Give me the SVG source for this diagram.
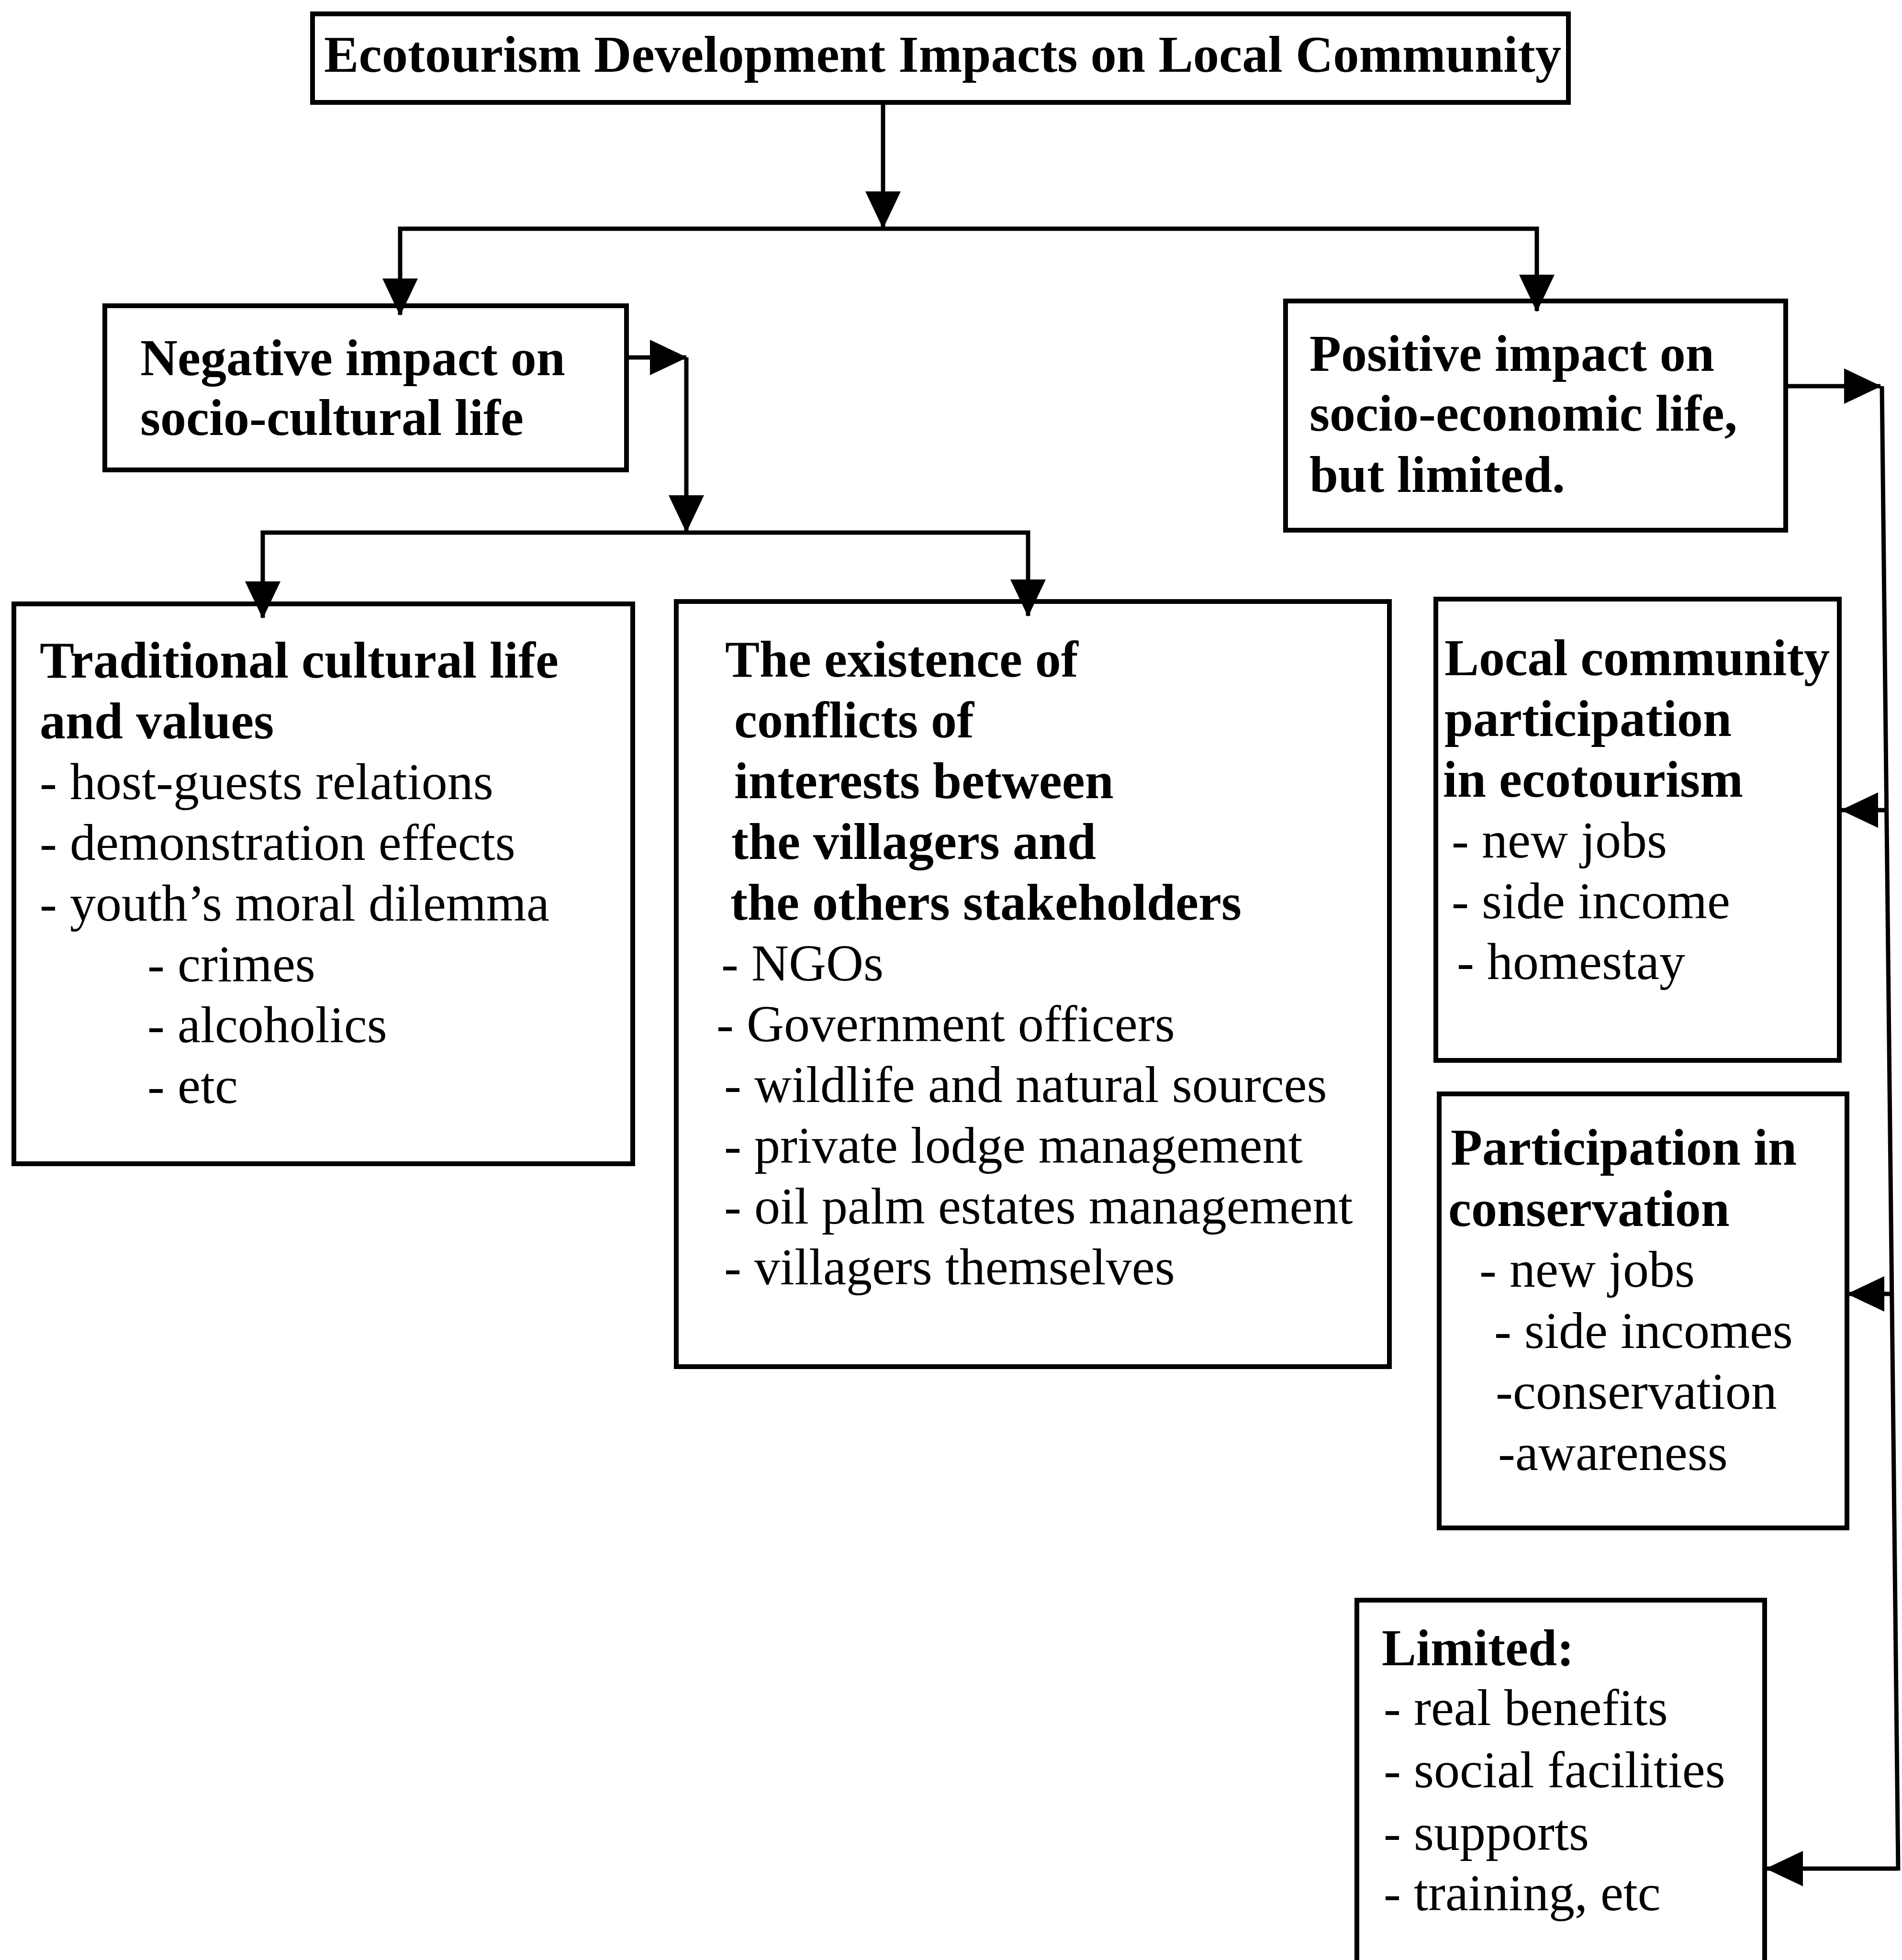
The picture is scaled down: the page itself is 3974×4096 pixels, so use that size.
<svg xmlns="http://www.w3.org/2000/svg" width="3974" height="4096" viewBox="0 0 3974 4096">
<defs>
<style>
.box{fill:none;stroke:#000;stroke-width:10}
.con{fill:none;stroke:#000;stroke-width:9}
text{font-family:"Liberation Serif","Times New Roman",serif;font-size:108px;fill:#000}
.b{font-weight:bold}
</style>
<marker id="ah" markerUnits="userSpaceOnUse" markerWidth="82" markerHeight="82" refX="76" refY="37" orient="auto"><path d="M0,0 L78,37 L0,74 Z" fill="#000"/></marker>
</defs>
<rect width="3974" height="4096" fill="#fff"/>
<g id="connectors">
<path class="con" d="M1845,214 V476" marker-end="url(#ah)"/>
<path class="con" d="M1845,478 H836 V658" marker-end="url(#ah)"/>
<path class="con" d="M1845,478 H3211 V650" marker-end="url(#ah)"/>
<path class="con" d="M1309,747 H1434" marker-end="url(#ah)"/>
<path class="con" d="M1434,747 V1111" marker-end="url(#ah)"/>
<path class="con" d="M1434,1113 H549 V1291" marker-end="url(#ah)"/>
<path class="con" d="M1434,1113 H2148 V1287" marker-end="url(#ah)"/>
<path class="con" d="M3731,807 H3929" marker-end="url(#ah)"/>
<path class="con" d="M3932,807 L3966,3909"/>
<path class="con" d="M3942,1693 H3848" marker-end="url(#ah)"/>
<path class="con" d="M3953,2704 H3861" marker-end="url(#ah)"/>
<path class="con" d="M3966,3905 H3691" marker-end="url(#ah)"/>
</g>
<g id="title">
<rect class="box" x="653" y="29" width="2624" height="185"/>
<text class="b" x="677" y="150" textLength="2585" lengthAdjust="spacingAndGlyphs">Ecotourism Development Impacts on Local Community</text>
</g>
<g id="negative">
<rect class="box" x="219" y="639" width="1090" height="343"/>
<text class="b" x="293" y="784">Negative impact on</text>
<text class="b" x="293" y="909">socio-cultural life</text>
</g>
<g id="positive">
<rect class="box" x="2686" y="629" width="1045" height="479"/>
<text class="b" x="2736" y="775">Positive impact on</text>
<text class="b" x="2736" y="900">socio-economic life,</text>
<text class="b" x="2736" y="1028">but limited.</text>
</g>
<g id="traditional">
<rect class="box" x="29" y="1262" width="1293" height="1170"/>
<text class="b" x="83" y="1416">Traditional cultural life</text>
<text class="b" x="83" y="1543">and values</text>
<text x="83" y="1670">- host-guests relations</text>
<text x="83" y="1797">- demonstration effects</text>
<text x="83" y="1924">- youth’s moral dilemma</text>
<text x="308" y="2051">- crimes</text>
<text x="308" y="2178">- alcoholics</text>
<text x="308" y="2305">- etc</text>
</g>
<g id="conflicts">
<rect class="box" x="1413" y="1257" width="1490" height="1599"/>
<text class="b" x="1515" y="1414">The existence of</text>
<text class="b" x="1534" y="1541">conflicts of</text>
<text class="b" x="1534" y="1668">interests between</text>
<text class="b" x="1528" y="1795">the villagers and</text>
<text class="b" x="1526" y="1922">the others stakeholders</text>
<text x="1507" y="2049">- NGOs</text>
<text x="1497" y="2176">- Government officers</text>
<text x="1513" y="2303">- wildlife and natural sources</text>
<text x="1513" y="2430">- private lodge management</text>
<text x="1513" y="2557">- oil palm estates management</text>
<text x="1513" y="2684">- villagers themselves</text>
</g>
<g id="local">
<rect class="box" x="3000" y="1252" width="843" height="964"/>
<text class="b" x="3018" y="1411" textLength="805" lengthAdjust="spacing">Local community</text>
<text class="b" x="3018" y="1538">participation</text>
<text class="b" x="3015" y="1665">in ecotourism</text>
<text x="3033" y="1792">- new jobs</text>
<text x="3033" y="1919">- side income</text>
<text x="3044" y="2046">- homestay</text>
</g>
<g id="conservation">
<rect class="box" x="3007" y="2286" width="852" height="907"/>
<text class="b" x="3031" y="2434">Participation in</text>
<text class="b" x="3026" y="2562">conservation</text>
<text x="3091" y="2689">- new jobs</text>
<text x="3122" y="2817">- side incomes</text>
<text x="3125" y="2944">-conservation</text>
<text x="3130" y="3072">-awareness</text>
</g>
<g id="limited">
<rect class="box" x="2835" y="3344" width="852" height="800"/>
<text class="b" x="2887" y="3480">Limited:</text>
<text x="2891" y="3605">- real benefits</text>
<text x="2891" y="3735">- social facilities</text>
<text x="2891" y="3866">- supports</text>
<text x="2891" y="3992">- training, etc</text>
</g>
</svg>
